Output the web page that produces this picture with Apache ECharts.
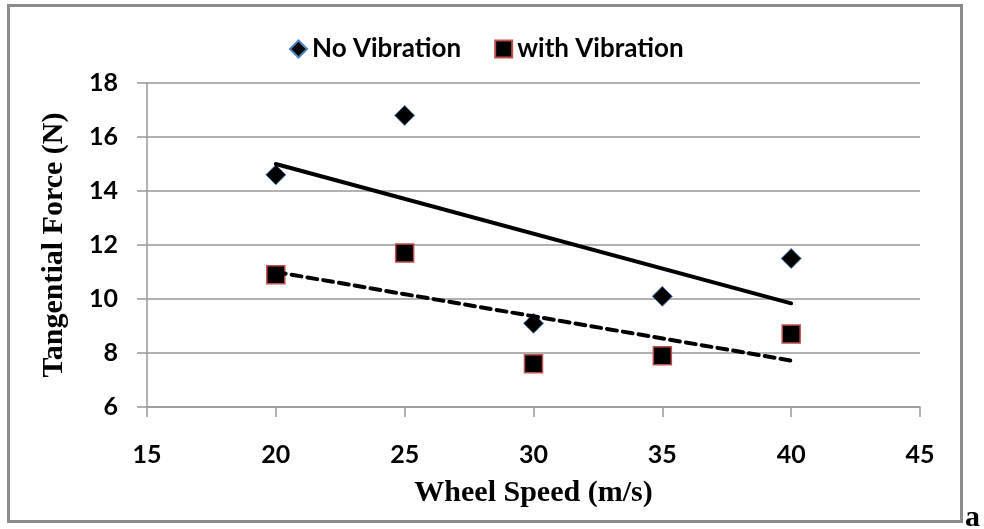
<!DOCTYPE html>
<html>
<head>
<meta charset="utf-8">
<script src="https://cdn.jsdelivr.net/npm/echarts@6/dist/echarts.min.js"></script>
<style>
  html, body { margin: 0; padding: 0; background: #fff; }
  #chart { width: 984px; height: 529px; }
</style>
</head>
<body>
<div id="chart"></div>
<script>
// wheel speed (m/s) and tangential force (N)
const speeds = [20, 25, 30, 35, 40]
const noVibration = [14.6, 16.8, 9.1, 10.1, 11.5]
const withVibration = [10.9, 11.7, 7.6, 7.9, 8.7]
const seriesNames = ['No Vibration', 'with Vibration']

// least squares trendline, like the excel "linear" trendline
function trend (xs, ys) {
  const n = xs.length
  const mx = xs.reduce((a, b) => a + b, 0) / n
  const my = ys.reduce((a, b) => a + b, 0) / n
  let sxy = 0
  let sxx = 0
  for (let i = 0; i < n; i++) {
    sxy += (xs[i] - mx) * (ys[i] - my)
    sxx += (xs[i] - mx) * (xs[i] - mx)
  }
  const k = sxy / sxx
  const x0 = xs[0]
  const x1 = xs[n - 1]
  return [[x0, my + k * (x0 - mx)], [x1, my + k * (x1 - mx)]]
}

function pairs (xs, ys) {
  return xs.map((x, i) => [x, ys[i]])
}

const tickFont = { fontFamily: 'Lato', fontWeight: 'bold', fontSize: 25, color: '#000' }
const titleFont = { fontFamily: 'Liberation Serif', fontWeight: 'bold', fontSize: 30, color: '#000' }
const gray = '#999'

const chart = echarts.init(document.getElementById('chart'))
chart.setOption({
  animation: false,
  backgroundColor: '#fff',
  grid: { left: 147, right: 64, top: 83, bottom: 122 },
  legend: {
    data: [
      { name: seriesNames[0], itemStyle: { opacity: 1 } },
      { name: seriesNames[1], itemStyle: { opacity: 1 } }
    ],
    left: 284,
    top: 31,
    itemGap: 33,
    itemWidth: 17,
    itemHeight: 17,
    textStyle: { fontFamily: 'Lato', fontWeight: 'bold', fontSize: 26, color: '#000' }
  },
  xAxis: {
    type: 'value',
    min: 15,
    max: 45,
    interval: 5,
    name: 'Wheel Speed (m/s)',
    nameLocation: 'middle',
    nameGap: 71,
    nameTextStyle: titleFont,
    axisLine: { show: true, lineStyle: { color: gray, width: 1.5 } },
    axisTick: { show: true, length: 10, lineStyle: { color: gray, width: 1.5 } },
    axisLabel: Object.assign({ margin: 35 }, tickFont),
    splitLine: { show: false }
  },
  yAxis: {
    type: 'value',
    min: 6,
    max: 18,
    interval: 2,
    name: 'Tangential Force (N)',
    nameLocation: 'middle',
    nameGap: 78,
    nameTextStyle: titleFont,
    axisLine: { show: true, lineStyle: { color: gray, width: 1.5 } },
    axisTick: { show: true, length: 10, lineStyle: { color: gray, width: 1.5 } },
    axisLabel: Object.assign({ margin: 29 }, tickFont),
    splitLine: { show: true, lineStyle: { color: gray, width: 1.5 } }
  },
  series: [
    {
      name: seriesNames[0],
      type: 'scatter',
      symbol: 'diamond',
      symbolSize: 20,
      itemStyle: { color: '#000', borderColor: '#4f81bd', borderWidth: 1, opacity: 1 },
      data: pairs(speeds, noVibration),
      z: 2
    },
    {
      name: seriesNames[1],
      type: 'scatter',
      symbol: 'rect',
      symbolSize: 18,
      itemStyle: { color: '#000', borderColor: '#c0504d', borderWidth: 1.5, opacity: 1 },
      data: pairs(speeds, withVibration),
      z: 2
    },
    { // trendline, no vibration
      type: 'line',
      symbol: 'none',
      silent: true,
      lineStyle: { color: '#000', width: 4, cap: 'round' },
      data: trend(speeds, noVibration),
      z: 3
    },
    { // trendline, with vibration
      type: 'line',
      symbol: 'none',
      silent: true,
      lineStyle: { color: '#000', width: 4, type: [10, 6], cap: 'round' },
      data: trend(speeds, withVibration),
      z: 3
    }
  ],
  graphic: [
    {
      type: 'rect',
      shape: { x: 8.5, y: 5.5, width: 953, height: 516 },
      style: { fill: 'none', stroke: '#8c8c8c', lineWidth: 3 },
      silent: true
    },
    {
      type: 'text',
      left: 965,
      top: 503,
      style: { text: 'a', fontFamily: 'Liberation Serif', fontWeight: 'bold', fontSize: 30, fill: '#000' }
    }
  ]
})
</script>
</body>
</html>
